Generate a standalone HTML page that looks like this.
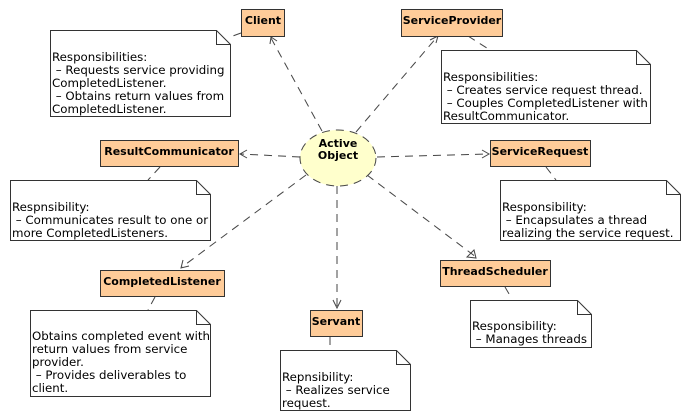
<!DOCTYPE html>
<html><head><meta charset="utf-8"><style>
html,body{margin:0;padding:0;background:#fff;}
svg{display:block;}
text{font-family:"DejaVu Sans","Liberation Sans",sans-serif;font-size:11px;fill:#000;white-space:pre;}
.n{font-size:11.8px;}
.b{font-weight:bold;}
.box{fill:#ffcc99;stroke:#333;stroke-width:1;}
.note{fill:#fff;stroke:#333;stroke-width:1;}
.d{stroke:#444;stroke-width:1;stroke-dasharray:8,6;fill:none;}
.a{stroke:#444;stroke-width:1;fill:none;}
</style></head><body>
<svg width="690" height="420" viewBox="0 0 690 420" xmlns="http://www.w3.org/2000/svg" xml:space="preserve">
<line class="d" x1="322" y1="131" x2="271" y2="38"/>
<path class="a" d="M270,44 L271,37 L277,41"/>
<line class="d" x1="356" y1="132" x2="437" y2="37"/>
<path class="a" d="M430,40 L438,36 L436,43"/>
<line class="d" x1="300" y1="157" x2="241" y2="154"/>
<path class="a" d="M247,150 L240,154 L247,158"/>
<line class="d" x1="377" y1="157" x2="488" y2="154"/>
<path class="a" d="M482,150 L489,154 L482,158"/>
<line class="d" x1="306" y1="175" x2="182" y2="267"/>
<path class="a" d="M183,260 L181,268 L189,266"/>
<line class="d" x1="337" y1="186" x2="337" y2="307"/>
<path class="a" d="M333,300 L337,308 L341,300"/>
<line class="d" x1="367" y1="175" x2="476" y2="257"/>
<path class="a" d="M467,257 L476,258 L474,250 Z" fill="#fff"/>
<line class="d" x1="241" y1="33" x2="230" y2="37"/>
<line class="d" x1="468" y1="36" x2="490" y2="50"/>
<line class="d" x1="160" y1="167" x2="148" y2="180"/>
<line class="d" x1="546" y1="167" x2="556" y2="180"/>
<line class="d" x1="155" y1="297" x2="148" y2="310"/>
<line class="d" x1="330" y1="337" x2="330" y2="350"/>
<line class="d" x1="505" y1="287" x2="512" y2="299"/>
<ellipse cx="338" cy="158" rx="38" ry="28" fill="#ffffcc" stroke="#444" stroke-dasharray="8,6"/>
<text class="b" x="338" y="147" text-anchor="middle">Active</text>
<text class="b" x="338" y="159" text-anchor="middle">Object</text>
<rect class="box" x="241.5" y="9.5" width="43" height="27"/><text class="b" x="263" y="24" text-anchor="middle">Client</text>
<rect class="box" x="401.5" y="9.5" width="101" height="27"/><text class="b" x="452" y="24" text-anchor="middle">ServiceProvider</text>
<rect class="box" x="100.5" y="140.5" width="138" height="26"/><text class="b" x="169" y="155" text-anchor="middle">ResultCommunicator</text>
<rect class="box" x="490.5" y="140.5" width="100" height="26"/><text class="b" x="540" y="155" text-anchor="middle">ServiceRequest</text>
<rect class="box" x="100.5" y="270.5" width="124" height="26"/><text class="b" x="162" y="285" text-anchor="middle">CompletedListener</text>
<rect class="box" x="310.5" y="310.5" width="52" height="26"/><text class="b" x="336" y="325" text-anchor="middle">Servant</text>
<rect class="box" x="440.5" y="260.5" width="110" height="26"/><text class="b" x="495" y="275" text-anchor="middle">ThreadScheduler</text>

<path class="note" d="M50.5,30.5 H216.5 L230.5,44.5 V116.5 H50.5 Z M216.5,30.5 V44.5 H230.5"/>
<text class="n" x="52" y="61">Responsibilities:</text>
<text class="n" x="52" y="74"> – Requests service providing</text>
<text class="n" x="52" y="87">CompletedListener.</text>
<text class="n" x="52" y="100"> – Obtains return values from</text>
<text class="n" x="52" y="113">CompletedListener.</text>

<path class="note" d="M441.5,50.5 H636.5 L650.5,64.5 V123.5 H441.5 Z M636.5,50.5 V64.5 H650.5"/>
<text class="n" x="443" y="81">Responsibilities:</text>
<text class="n" x="443" y="94"> – Creates service request thread.</text>
<text class="n" x="443" y="107"> – Couples CompletedListener with</text>
<text class="n" x="443" y="120">ResultCommunicator.</text>

<path class="note" d="M10.5,180.5 H196.5 L210.5,194.5 V240.5 H10.5 Z M196.5,180.5 V194.5 H210.5"/>
<text class="n" x="12" y="211">Respnsibility:</text>
<text class="n" x="12" y="224"> – Communicates result to one or</text>
<text class="n" x="12" y="237">more CompletedListeners.</text>

<path class="note" d="M500.5,180.5 H666.5 L680.5,194.5 V240.5 H500.5 Z M666.5,180.5 V194.5 H680.5"/>
<text class="n" x="502" y="211">Responsibility:</text>
<text class="n" x="502" y="224"> – Encapsulates a thread</text>
<text class="n" x="502" y="237">realizing the service request.</text>

<path class="note" d="M30.5,310.5 H196.5 L210.5,324.5 V396.5 H30.5 Z M196.5,310.5 V324.5 H210.5"/>
<text class="n" x="32" y="340">Obtains completed event with</text>
<text class="n" x="32" y="353">return values from service</text>
<text class="n" x="32" y="366">provider.</text>
<text class="n" x="32" y="379"> – Provides deliverables to</text>
<text class="n" x="32" y="392">client.</text>

<path class="note" d="M280.5,350.5 H396.5 L410.5,364.5 V410.5 H280.5 Z M396.5,350.5 V364.5 H410.5"/>
<text class="n" x="282" y="381">Repnsibility:</text>
<text class="n" x="282" y="394"> – Realizes service</text>
<text class="n" x="282" y="407">request.</text>

<path class="note" d="M470.5,300.5 H577.5 L591.5,314.5 V347.5 H470.5 Z M577.5,300.5 V314.5 H591.5"/>
<text class="n" x="472" y="330">Responsibility:</text>
<text class="n" x="472" y="343"> – Manages threads</text>
</svg>
</body></html>
